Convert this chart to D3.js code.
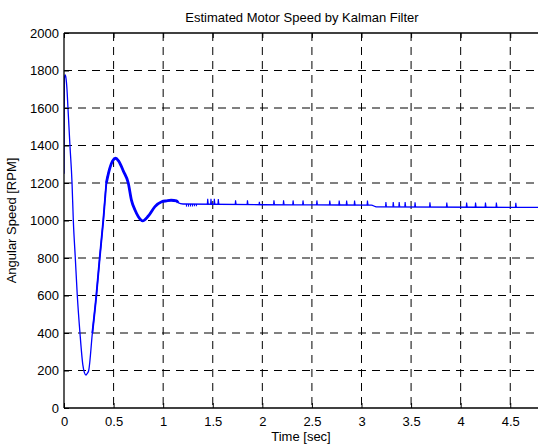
<!DOCTYPE html>
<html>
<head>
<meta charset="utf-8">
<script src="https://cdn.jsdelivr.net/npm/d3@7"></script>
<style>
  body { margin: 0; background: #fff; }
  text { font-family: "Liberation Sans", Arial, sans-serif; fill: #000; }
</style>
</head>
<body>
<svg id="chart" width="538" height="445"></svg>
<script>
// Estimated speed trace
const timeSec = [0, 0.004, 0.012, 0.02, 0.03, 0.04, 0.06, 0.081, 0.094, 0.114, 0.134, 0.161, 0.19, 0.205, 0.222,
    0.235, 0.249, 0.286, 0.326, 0.36, 0.396, 0.427, 0.46, 0.49, 0.521, 0.55, 0.6, 0.648, 0.68, 0.716, 0.75,
    0.793, 0.85, 0.917, 0.985, 1.035, 1.08, 1.136, 1.15, 1.2, 2.0, 3.1, 3.15, 4.8];
const speedRpm = [1250, 1760, 1776, 1760, 1700, 1600, 1400, 1200, 1000, 800, 600, 400, 230, 190, 176,
    185, 200, 400, 600, 800, 1000, 1200, 1275, 1318, 1332, 1318, 1262, 1200, 1109, 1056, 1020,
    998, 1024, 1074, 1100, 1105, 1108, 1105, 1095, 1088, 1084, 1082, 1073, 1070];

// small spikes on the steady part: time, base, top
const spikeTime = [1.449, 1.482, 1.516, 1.556, 1.73, 1.85, 1.97, 2.117, 2.214, 2.31, 2.41, 2.55, 2.68, 2.775,
    2.85, 2.93, 3.06, 3.246, 3.32, 3.38, 3.44, 3.54, 3.69, 3.86, 4.06, 4.15, 4.25, 4.36, 4.556];
const spikeBase = [1086, 1086, 1086, 1086, 1085, 1085, 1084, 1084, 1084, 1083, 1083, 1083, 1083, 1082,
    1082, 1082, 1082, 1073, 1073, 1073, 1073, 1072, 1072, 1072, 1071, 1071, 1071, 1071, 1070];
const spikeTop = [1116, 1116, 1116, 1114, 1108, 1108, 1100, 1108, 1108, 1107, 1107, 1107, 1106, 1106,
    1106, 1106, 1106, 1098, 1098, 1098, 1098, 1097, 1097, 1096, 1096, 1096, 1096, 1096, 1094];

// little downward comb just after the oscillation
const combTime = [1.235, 1.255, 1.275, 1.295, 1.315, 1.335];
const combDepth = [1074, 1074, 1075, 1075, 1076, 1076];

const xTicks = [0, 0.5, 1, 1.5, 2, 2.5, 3, 3.5, 4, 4.5];
const yTicks = [0, 200, 400, 600, 800, 1000, 1200, 1400, 1600, 1800, 2000];

const margin = { left: 64, top: 33 };
const width = 476, height = 375;

const svg = d3.select('#chart');
const g = svg.append('g').attr('transform', `translate(${margin.left},${margin.top})`);

const x = d3.scaleLinear().domain([0, 4.8]).range([0, width]);
const y = d3.scaleLinear().domain([0, 2000]).range([height, 0]);

// grid
g.selectAll('.vgrid').data(xTicks.filter(d => d > 0))
    .enter().append('line')
    .attr('x1', d => x(d)).attr('x2', d => x(d))
    .attr('y1', 0).attr('y2', height)
    .attr('stroke', '#000').attr('stroke-width', 1)
    .attr('stroke-dasharray', '8,6');

g.selectAll('.hgrid').data(yTicks.filter(d => d > 0 && d < 2000))
    .enter().append('line')
    .attr('x1', 0).attr('x2', width)
    .attr('y1', d => y(d)).attr('y2', d => y(d))
    .attr('stroke', '#000').attr('stroke-width', 1)
    .attr('stroke-dasharray', '8,6');

// data line
const pts = timeSec.map((t, i) => [t, speedRpm[i]]);
const line = d3.line().x(d => x(d[0])).y(d => y(d[1])).curve(d3.curveMonotoneX);
const straight = d3.line().x(d => x(d[0])).y(d => y(d[1]));

g.append('clipPath').attr('id', 'plotclip')
    .append('rect').attr('width', width).attr('height', height);
const plot = g.append('g').attr('clip-path', 'url(#plotclip)');

plot.append('path').datum(pts)
    .attr('d', line).attr('fill', 'none')
    .attr('stroke', '#0000ff').attr('stroke-width', 1.3);

plot.append('path').datum(pts.filter(d => d[0] >= 0.28 && d[0] <= 0.43))
    .attr('d', line).attr('fill', 'none')
    .attr('stroke', '#0000ff').attr('stroke-width', 1.9);

plot.append('path').datum(pts.filter(d => d[0] >= 0.427 && d[0] <= 1.15))
    .attr('d', line).attr('fill', 'none')
    .attr('stroke', '#0000ff').attr('stroke-width', 2.8);

plot.selectAll('.spike').data(spikeTime)
    .enter().append('path')
    .attr('d', (t, i) => straight([[t - 0.004, spikeBase[i]], [t, spikeTop[i]], [t + 0.006, spikeBase[i]]]))
    .attr('fill', 'none').attr('stroke', '#0000ff').attr('stroke-width', 1.1);

plot.selectAll('.comb').data(combTime)
    .enter().append('line')
    .attr('x1', t => x(t)).attr('x2', t => x(t))
    .attr('y1', y(1088)).attr('y2', (t, i) => y(combDepth[i]))
    .attr('stroke', '#0000ff').attr('stroke-width', 1.1);

// axes with inward ticks
const xAxis = d3.axisBottom(x).tickValues(xTicks).tickSize(-5).tickPadding(9).tickFormat(d3.format('~g'));
const yAxis = d3.axisLeft(y).tickValues(yTicks).tickSize(-5).tickPadding(5).tickFormat(d3.format('d'));
const xTop = d3.axisTop(x).tickValues(xTicks).tickSize(-5).tickFormat('');

const gx = g.append('g').attr('transform', `translate(0,${height})`).call(xAxis);
const gy = g.append('g').call(yAxis);
const gt = g.append('g').call(xTop);

[gx, gy, gt].forEach(a => {
    a.select('.domain').attr('stroke', '#000').attr('stroke-width', 1.3);
    a.selectAll('.tick line').attr('stroke', '#000');
    a.selectAll('.tick text').style('font-size', '13px')
        .style('font-family', '"Liberation Sans", Arial, sans-serif').attr('fill', '#000');
});
gx.select('.domain').attr('d', `M0,0H${width}`);
gt.select('.domain').attr('d', `M0,0H${width}`);
gy.select('.domain').attr('d', `M0,0V${height}`);

// labels
svg.append('text').attr('x', 302).attr('y', 22).attr('text-anchor', 'middle')
    .style('font-size', '13px').text('Estimated Motor Speed by Kalman Filter');
svg.append('text').attr('x', 301).attr('y', 441).attr('text-anchor', 'middle')
    .style('font-size', '13px').text('Time [sec]');
svg.append('text').attr('transform', 'translate(16,220.5) rotate(-90)').attr('text-anchor', 'middle')
    .style('font-size', '13px').text('Angular Speed [RPM]');
</script>
</body>
</html>
